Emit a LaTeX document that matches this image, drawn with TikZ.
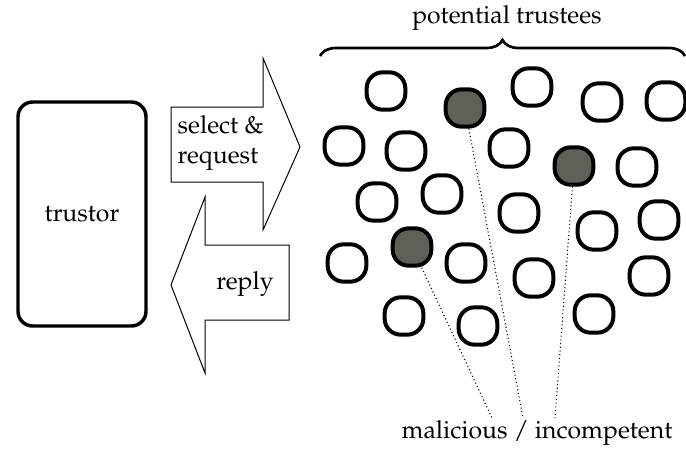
\documentclass[tikz,border=0pt]{standalone}
\usepackage[T1]{fontenc}
\usepackage{mathpazo}
\usetikzlibrary{decorations.pathreplacing}
\definecolor{badgrey}{RGB}{96,96,88}

\begin{document}
\begin{tikzpicture}[x=0.75pt, y=-0.75pt,
        every node/.style={font=\fontsize{18.6}{22}\selectfont},
        trustee/.style={draw, line width=3pt, rounded corners=12pt, minimum width=29pt, minimum height=28pt, inner sep=0pt},
        bad/.style={trustee, fill=badgrey}]
        \useasboundingbox (0,0) rectangle (686,450);

        \node[draw, line width=2.6pt, rounded corners=11pt, minimum width=96pt, minimum height=168pt] (trustor) at (82,214) {trustor};

        % the two big arrows
        \draw[line width=0.75pt] (171,107) -- (263,107) -- (263,58) -- (300,147) -- (263,230) -- (263,182) -- (171,182) -- cycle;
        \node[anchor=west, align=left] (request) at (173,143) {select \&\\request};
        \draw[line width=0.75pt] (289,245) -- (205,245) -- (205,197) -- (171,285) -- (205,373) -- (205,320) -- (289,320) -- cycle;
        \node (reply) at (245,284) {reply};

        % trustees
        \node[trustee] (t1) at (386,91) {};
        \node[bad] (bad1) at (465,108) {};
        \node[trustee] (t2) at (532,87) {};
        \node[trustee] (t3) at (602,102) {};
        \node[trustee] (t4) at (666,101) {};
        \node[trustee] (t5) at (344,146) {};
        \node[trustee] (t6) at (406,151) {};
        \node[trustee] (t7) at (509,148) {};
        \node[bad] (bad2) at (574,166) {};
        \node[trustee] (t8) at (637,167) {};
        \node[trustee] (t9) at (377,202) {};
        \node[trustee] (t10) at (442,194) {};
        \node[trustee] (t11) at (519,213) {};
        \node[trustee] (t12) at (597,231) {};
        \node[trustee] (t13) at (659,220) {};
        \node[bad] (bad3) at (412,247) {};
        \node[trustee] (t14) at (347,263) {};
        \node[trustee] (t15) at (466,263) {};
        \node[trustee] (t16) at (534,278) {};
        \node[trustee] (t17) at (649,276) {};
        \node[trustee] (t18) at (404,316) {};
        \node[trustee] (t19) at (478,326) {};
        \node[trustee] (t20) at (594,314) {};

        % brace on top
        \coordinate (braceL) at (320,56);
        \coordinate (braceR) at (685,56);
        \draw[line width=2pt, decoration={brace, amplitude=12pt}, decorate] (braceL) -- (braceR);
        \node (pot) at (507,18) {potential trustees};

        % labels of the bad ones
        \node (mal) at (537,433) {malicious / incompetent};
        \coordinate (m1) at (492,418);
        \coordinate (m2) at (523,418);
        \coordinate (m3) at (555,418);
        \draw[dotted, line width=0.8pt] (bad3) -- (m1);
        \draw[dotted, line width=0.8pt] (bad1) -- (m2);
        \draw[dotted, line width=0.8pt] (bad2) -- (m3);

    \end{tikzpicture}
\end{document}
